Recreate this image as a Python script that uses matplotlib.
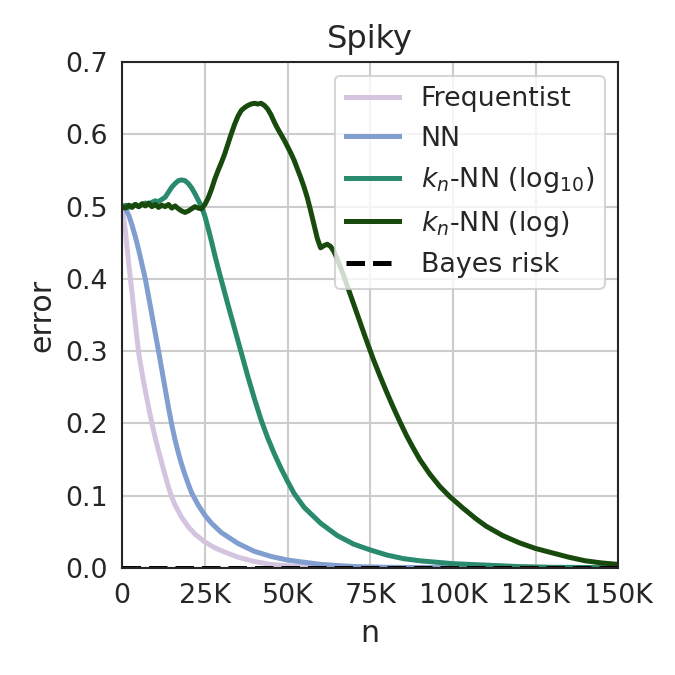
import matplotlib
matplotlib.use("Agg")
import matplotlib.pyplot as plt
from matplotlib.ticker import FuncFormatter, MultipleLocator

# ---- data (n in thousands) ----
freq_n = [0, 1, 2, 3, 4, 5, 6, 7, 8, 9, 10, 11, 12, 13, 14, 15, 16, 18, 20, 22, 25, 28, 30, 35, 40, 45, 50,
          60, 80, 100, 150]
freq_err = [0.50, 0.465, 0.42, 0.38, 0.337, 0.297, 0.27, 0.245, 0.222, 0.20, 0.18, 0.162, 0.145, 0.128, 0.112,
            0.098, 0.087, 0.07, 0.057, 0.047, 0.036, 0.028, 0.024, 0.015, 0.009, 0.005, 0.003, 0.001, 0.0003,
            0.0, 0.0]

nn_n = [0, 1, 2, 3, 4, 5, 6, 7, 8, 9, 10, 11, 12, 13, 14, 15, 16, 17, 18, 19, 20, 21, 23, 25, 27, 30, 35, 40,
        45, 50, 55, 60, 70, 80, 100, 150]
nn_err = [0.50, 0.497, 0.488, 0.474, 0.458, 0.44, 0.42, 0.40, 0.375, 0.35, 0.325, 0.30, 0.274, 0.248, 0.222,
          0.198, 0.177, 0.159, 0.143, 0.129, 0.116, 0.104, 0.087, 0.073, 0.062, 0.049, 0.034, 0.023, 0.016, 0.011,
          0.008, 0.005, 0.002, 0.001, 0.0003, 0.0]

kn10_n = [0, 1, 2, 3, 4, 5, 6, 7, 8, 9, 10, 11, 12, 13, 14, 15, 16, 17, 18, 19, 20, 21, 22, 23, 24, 25, 26, 27,
          28, 29, 30, 32, 34, 36, 38, 40, 42, 44, 46, 48, 50, 52, 55, 60, 65, 70, 75, 80, 85, 90, 100, 110, 120,
          130, 150]
kn10_err = [0.500, 0.502, 0.499, 0.501, 0.503, 0.500, 0.503, 0.505, 0.503, 0.506, 0.508, 0.507, 0.510, 0.513,
            0.520, 0.527, 0.532, 0.536, 0.537, 0.536, 0.532, 0.526, 0.518, 0.509, 0.500, 0.487, 0.470, 0.452,
            0.433, 0.415, 0.398, 0.364, 0.331, 0.298, 0.265, 0.234, 0.205, 0.180, 0.158, 0.138, 0.120, 0.103,
            0.084, 0.062, 0.045, 0.033, 0.025, 0.018, 0.013, 0.010, 0.006, 0.004, 0.002, 0.001, 0.0005]

knln_n = [0, 1, 2, 3, 4, 5, 6, 7, 8, 9, 10, 11, 12, 13, 14, 15, 16, 17, 18, 19, 20, 21, 22, 23, 24, 25, 26, 27,
          28, 29, 30, 31, 32, 33, 34, 35, 36, 37, 38, 39, 40, 41, 42, 43, 44, 45, 46, 47, 48, 49, 50, 51, 52,
          53, 54, 55, 56, 57, 58, 59, 60, 61, 62, 63, 64, 65, 66, 67, 68, 70, 72, 74, 76, 78, 80, 82, 84,
          86, 88, 90, 93, 96, 99, 103, 107, 110, 115, 120, 125, 130, 135, 140, 145, 150]
knln_err = [0.500, 0.498, 0.502, 0.499, 0.503, 0.500, 0.504, 0.501, 0.505, 0.500, 0.503, 0.499, 0.502, 0.500,
            0.503, 0.498, 0.501, 0.497, 0.494, 0.492, 0.494, 0.497, 0.500, 0.498, 0.497, 0.503, 0.512, 0.524,
            0.538, 0.550, 0.561, 0.573, 0.587, 0.601, 0.614, 0.625, 0.633, 0.637, 0.640, 0.642, 0.643, 0.642,
            0.643, 0.640, 0.635, 0.627, 0.617, 0.608, 0.600, 0.592, 0.583, 0.574, 0.564, 0.552, 0.540, 0.527,
            0.512, 0.494, 0.475, 0.456, 0.443, 0.446, 0.448, 0.445, 0.438, 0.428, 0.416, 0.404, 0.391, 0.365,
            0.339, 0.313, 0.288, 0.265, 0.243, 0.222, 0.202, 0.183, 0.166, 0.150, 0.130, 0.113, 0.099,
            0.083, 0.068, 0.058, 0.045, 0.035, 0.027, 0.021, 0.015, 0.010, 0.007, 0.005]

bayes_n = [0, 150]
bayes_err = [0.0, 0.0]

labels = ["Frequentist", "NN", r"$k_n$-NN (log$_{10}$)", r"$k_n$-NN (log)", "Bayes risk"]
colors = ["#d4c4e0", "#809ecf", "#2a8a6e", "#174a0c", "black"]

# ---- plot ----
plt.rcParams["font.family"] = ["DejaVu Sans"]
tc = "#262626"
fig = plt.figure(figsize=(4.5, 4.5), dpi=150)
ax = fig.add_axes([0.181, 0.1585, 0.735, 0.7495])

series = [(freq_n, freq_err), (nn_n, nn_err), (kn10_n, kn10_err), (knln_n, knln_err)]
for (xs, ys), lab, col in zip(series, labels[:4], colors[:4]):
    ax.plot([v * 1000 for v in xs], ys, color=col, lw=2.4, label=lab)
ax.plot([v * 1000 for v in bayes_n], bayes_err, color=colors[4], lw=2.4, ls="--", label=labels[4])

ax.set_xlim(0, 150000)
ax.set_ylim(0, 0.7)
ax.xaxis.set_major_locator(MultipleLocator(25000))
ax.yaxis.set_major_locator(MultipleLocator(0.1))
ax.xaxis.set_major_formatter(FuncFormatter(lambda v, p: "0" if v == 0 else f"{int(round(v / 1000))}K"))
ax.yaxis.set_major_formatter(FuncFormatter(lambda v, p: f"{v:.1f}"))

ax.grid(True, color="#cccccc", lw=1.0)
ax.set_axisbelow(True)
for s in ax.spines.values():
    s.set_color(tc)
    s.set_linewidth(1.0)
ax.tick_params(length=0, labelsize=12.9, labelcolor=tc, pad=7)

ax.set_xlabel("n", fontsize=14.4, color=tc, labelpad=5)
ax.set_ylabel("error", fontsize=14.4, color=tc)
ax.set_title("Spiky", fontsize=15.4, color=tc, pad=7)

leg = ax.legend(loc="upper right", fontsize=12.9, framealpha=0.8, edgecolor="0.8", fancybox=True)
for t in leg.get_texts():
    t.set_color(tc)

fig.savefig("out.png", dpi=150, facecolor="white")
